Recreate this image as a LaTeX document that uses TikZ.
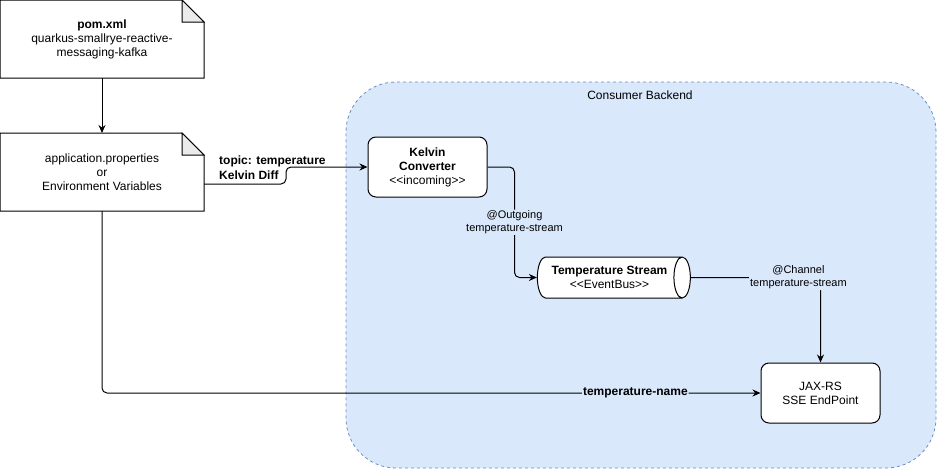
\documentclass[tikz,border=0pt]{standalone}
\usepackage{fontspec}
\setmainfont{Liberation Sans}
\usepackage{xcolor}
\usepackage{tikz}
\usetikzlibrary{positioning, arrows.meta, calc, shapes.geometric}
\definecolor{grpfill}{HTML}{DAE8FC}
\definecolor{grpline}{HTML}{6C8EBF}
\definecolor{foldfill}{HTML}{EBEBEB}
\newcommand{\txt}{\fontsize{12}{14}\selectfont}
\newcommand{\smtxt}{\fontsize{11}{13}\selectfont}
\tikzset{
  pnode/.style={align=center, font=\txt, inner sep=0pt, line width=1pt},
  docnode/.style={pnode, minimum width=203pt, minimum height=77pt},
  svc/.style={pnode, draw, fill=white, rounded corners=8pt, minimum width=119pt, minimum height=60pt},
  bus/.style={pnode, draw, fill=white, cylinder, aspect=0.73, minimum width=41pt, minimum height=153pt},
  group/.style={draw=grpline, dashed, fill=grpfill, line width=0.8pt, rounded corners=50pt, minimum width=590pt, minimum height=386pt},
  elbl/.style={font=\smtxt, fill=grpfill, inner sep=1pt, align=center},
  arr/.style={-{Stealth[length=8pt, width=7pt]}, line width=1pt, rounded corners=5pt},
}
% note outline with folded corner
\newcommand{\notebox}[1]{%
  \draw[line width=1pt] (#1.south west) -- (#1.north west) -- ([xshift=-22pt]#1.north east)
    -- ([yshift=-22pt]#1.north east) -- (#1.south east) -- cycle;
  \draw[line width=1pt, fill=foldfill] ([xshift=-22pt]#1.north east) -- ([xshift=-22pt,yshift=-22pt]#1.north east)
    -- ([yshift=-22pt]#1.north east) -- cycle;}

\begin{document}
\begin{tikzpicture}[x=1pt, y=-1pt]
\useasboundingbox (0,0) rectangle (938,469);
\node[group] (backend) at (641,275) {};
\node[font=\txt] (backendlbl) at (640,95) {Consumer Backend};

\node[docnode] (pom) at (102,39) {\textbf{pom.xml}\\quarkus-smallrye-reactive-\\messaging-kafka};
\notebox{pom}
\node[docnode] (app) at (102,172) {application.properties\\or\\Environment Variables};
\notebox{app}

\node[svc] (kelvin) at (427.5,167) {\textbf{Kelvin}\\\textbf{Converter}\\<\kern0pt<incoming>\kern0pt>};
\node[bus] (stream) at (609.5,277.5) {\textbf{Temperature Stream}\\<\kern0pt<EventBus>\kern0pt>};
\node[svc] (jax) at (820.5,393) {JAX-RS\\SSE EndPoint};
\node[font=\txt\bfseries, align=left, anchor=west, inner sep=0pt] (topic) at (219,167.5)
  {topic: temperature\\[1pt]Kelvin Diff};

\draw[arr] (pom) -- (app);
\draw[arr] ([yshift=-12pt]app.east) -- ++(82,0) |- (kelvin.west);
\draw[arr] (kelvin.east) -- ++(27,0) |- node[elbl, pos=0.25] {@Outgoing\\temperature-stream} (stream.west);
\draw[arr] (stream.east) -| node[elbl, pos=0.415] {@Channel\\temperature-stream} (jax.north);
\draw[arr] (app.south) |- node[elbl, pos=0.905, font=\txt\bfseries] {temperature-name} (jax.west);
\end{tikzpicture}
\end{document}
